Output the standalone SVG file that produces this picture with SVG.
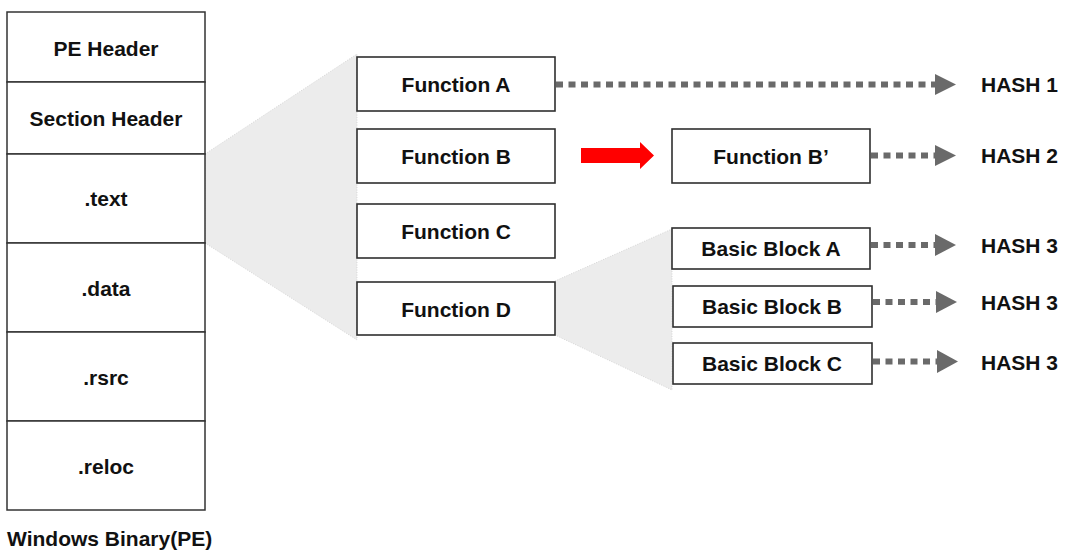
<svg xmlns="http://www.w3.org/2000/svg" width="1070" height="556" viewBox="0 0 1070 556">
  <defs>
    <style>
      .box { fill: #ffffff; stroke: #2f2f2f; stroke-width: 1.6; }
      .sec { fill: #ffffff; stroke: #333333; stroke-width: 1.5; }
      .lbl { font-family: "Liberation Sans", Arial, sans-serif; font-weight: bold; font-size: 21px; fill: #111111; text-anchor: middle; }
      .hash { font-family: "Liberation Sans", Arial, sans-serif; font-weight: bold; font-size: 21px; fill: #111111; }
      .zoom { fill: #ececec; stroke: #c8c8c8; stroke-width: 0.7; stroke-dasharray: 1 1.5; }
      .dots { fill: none; stroke: #6a6a6a; stroke-width: 6; stroke-dasharray: 7 5.5; }
      .head { fill: #6a6a6a; }
    </style>
  </defs>

  <!-- expansion wedges -->
  <g id="wedges">
    <polygon class="zoom" points="205,154 357,54 357,340 205,243"/>
    <polygon class="zoom" points="555,281 672,229 672,390 555,335"/>
  </g>

  <!-- PE sections -->
  <g id="pe-header">
    <rect class="sec" x="7" y="12" width="198" height="70"/>
    <text class="lbl" x="106" y="56">PE Header</text>
  </g>
  <g id="section-header">
    <rect class="sec" x="7" y="82" width="198" height="72"/>
    <text class="lbl" x="106" y="126">Section Header</text>
  </g>
  <g id="sec-text">
    <rect class="sec" x="7" y="154" width="198" height="89"/>
    <text class="lbl" x="106" y="206">.text</text>
  </g>
  <g id="sec-data">
    <rect class="sec" x="7" y="243" width="198" height="89"/>
    <text class="lbl" x="106" y="296">.data</text>
  </g>
  <g id="sec-rsrc">
    <rect class="sec" x="7" y="332" width="198" height="89"/>
    <text class="lbl" x="106" y="385">.rsrc</text>
  </g>
  <g id="sec-reloc">
    <rect class="sec" x="7" y="421" width="198" height="89"/>
    <text class="lbl" x="106" y="474">.reloc</text>
  </g>
  <g id="caption">
    <text class="hash" x="7" y="546">Windows Binary(PE)</text>
  </g>

  <!-- functions -->
  <g id="function-a">
    <rect class="box" x="357" y="57" width="198" height="54"/>
    <text class="lbl" x="456" y="92">Function A</text>
  </g>
  <g id="function-b">
    <rect class="box" x="357" y="129" width="198" height="54"/>
    <text class="lbl" x="456" y="164">Function B</text>
  </g>
  <g id="function-c">
    <rect class="box" x="357" y="204" width="198" height="54"/>
    <text class="lbl" x="456" y="239">Function C</text>
  </g>
  <g id="function-d">
    <rect class="box" x="357" y="282" width="198" height="53"/>
    <text class="lbl" x="456" y="317">Function D</text>
  </g>
  <g id="function-b-prime">
    <rect class="box" x="672" y="129" width="198" height="54"/>
    <text class="lbl" x="771" y="164">Function B’</text>
  </g>

  <!-- basic blocks -->
  <g id="block-a">
    <rect class="box" x="672" y="228" width="198" height="41"/>
    <text class="lbl" x="771" y="256">Basic Block A</text>
  </g>
  <g id="block-b">
    <rect class="box" x="673" y="286" width="199" height="41"/>
    <text class="lbl" x="772" y="314">Basic Block B</text>
  </g>
  <g id="block-c">
    <rect class="box" x="673" y="343" width="199" height="41"/>
    <text class="lbl" x="772" y="371">Basic Block C</text>
  </g>

  <!-- hash results -->
  <g id="hash-1"><text class="hash" x="981" y="92">HASH 1</text></g>
  <g id="hash-2"><text class="hash" x="981" y="163">HASH 2</text></g>
  <g id="hash-3a"><text class="hash" x="981" y="253">HASH 3</text></g>
  <g id="hash-3b"><text class="hash" x="981" y="310">HASH 3</text></g>
  <g id="hash-3c"><text class="hash" x="981" y="370">HASH 3</text></g>

  <!-- connectors -->
  <g id="connectors">
    <line class="dots" x1="556" y1="84.5" x2="935" y2="84.5"/>
    <polygon class="head" points="935,74 956,84.5 935,95"/>

    <line class="dots" x1="871" y1="155.5" x2="935" y2="155.5"/>
    <polygon class="head" points="935,145 956,155.5 935,166"/>

    <line class="dots" x1="871" y1="245" x2="935" y2="245"/>
    <polygon class="head" points="935,234 956,245 935,256"/>

    <line class="dots" x1="873" y1="302" x2="936" y2="302"/>
    <polygon class="head" points="936,291 957,302 936,313"/>

    <line class="dots" x1="873" y1="361.5" x2="937" y2="361.5"/>
    <polygon class="head" points="937,350 958,361.5 937,373"/>

    <!-- rewrite arrow -->
    <polygon fill="#ff0000" points="581,148 640,148 640,142 654,155.5 640,169 640,163 581,163"/>
  </g>
</svg>
